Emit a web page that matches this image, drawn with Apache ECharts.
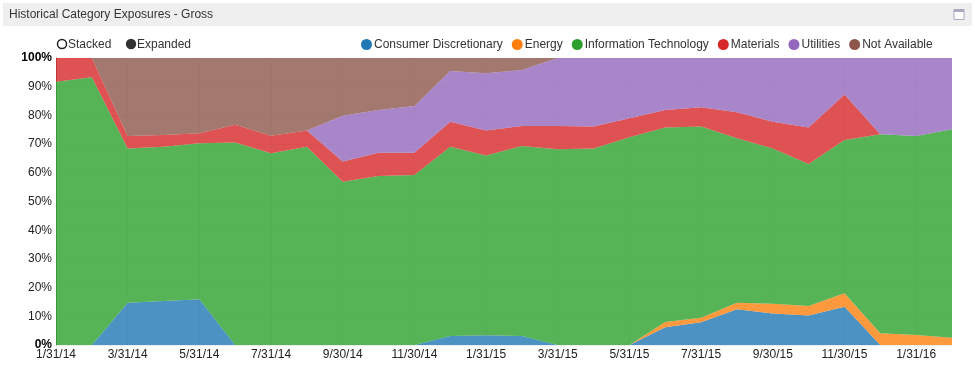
<!DOCTYPE html>
<html>
<head>
<meta charset="utf-8">
<script src="https://cdn.jsdelivr.net/npm/echarts@6/dist/echarts.min.js"></script>
<style>
html,body{margin:0;padding:0;background:#fff;}
#c{width:975px;height:367px;}
</style>
</head>
<body>
<div id="c"></div>
<script>
var dates = ['1/31/14','2/28/14','3/31/14','4/30/14','5/31/14','6/30/14','7/31/14','8/31/14','9/30/14','10/31/14','11/30/14','12/31/14','1/31/15','2/28/15','3/31/15','4/30/15','5/31/15','6/30/15','7/31/15','8/31/15','9/30/15','10/31/15','11/30/15','12/31/15','1/31/16','2/29/16'];
var consumerDiscretionary = [0,0,14.7,15.3,15.9,0,0,0,0,0,0,3.1,3.4,3.1,0,0,0,6.2,7.9,12.5,11.0,10.3,13.3,0,0,0];
var energy = [0,0,0,0,0,0,0,0,0,0,0,0,0,0,0,0,0,1.8,1.6,2.2,3.4,3.3,4.7,4.1,3.5,2.5];
var informationTechnology = [91.7,93.3,53.8,53.8,54.4,70.6,66.8,69.1,56.9,58.9,59.2,66.0,62.6,66.2,68.2,68.5,72.4,67.8,66.6,57.3,54.1,49.5,53.4,69.3,69.3,72.7];
var materials = [8.3,6.7,4.3,4.1,3.5,6.1,6.1,5.6,7.0,8.1,7.8,8.7,8.7,7.0,8.1,7.6,6.6,6.1,6.7,9.1,9.3,12.7,15.9,0,0,0];
var utilities = [0,0,0,0,0,0,0,0,16.0,14.9,16.3,17.7,20.0,19.5,23.7,23.9,21.0,18.1,17.2,18.9,22.2,24.2,12.7,26.6,27.2,24.8];
var notAvailable = [0,0,27.2,26.8,26.2,23.3,27.1,25.3,20.1,18.1,16.7,4.5,5.3,4.2,0,0,0,0,0,0,0,0,0,0,0,0];
var yTicks = [0,10,20,30,40,50,60,70,80,90,100];

var names = ['Consumer Discretionary','Energy','Information Technology','Materials','Utilities','Not Available'];
var colors = ['#1f77b4','#ff7f0e','#2ca02c','#d62728','#9467bd','#8c564b'];
var data = [consumerDiscretionary, energy, informationTechnology, materials, utilities, notAvailable];
var FONT = 'Arial, "Liberation Sans", sans-serif';

var series = names.map(function(n,i){
  return {
    name:n, type:'line', stack:'total', data:data[i],
    color:colors[i], symbol:'none', showSymbol:false,
    lineStyle:{width:0}, areaStyle:{opacity:0.8, color:colors[i]},
    emphasis:{disabled:true}, animation:false
  };
});

var chart = echarts.init(document.getElementById('c'), null, {renderer:'canvas'});
chart.setOption({
  animation:false,
  textStyle:{fontFamily:FONT},
  grid:{left:56, right:23, top:58, bottom:22, containLabel:false},
  legend:{
    data:names, left:361, top:38.5, padding:0, icon:'circle', itemWidth:11, itemHeight:11, itemGap:9,
    textStyle:{fontFamily:FONT, fontSize:12, color:'#333', padding:[0,0,0,-3]},
    selectedMode:false
  },
  xAxis:{
    type:'category', data:dates, boundaryGap:false,
    axisLine:{show:false}, axisTick:{show:false},
    axisLabel:{interval:1, color:'#222', fontSize:12, fontFamily:FONT, margin:4},
    splitLine:{show:true, interval:1, lineStyle:{color:'rgba(0,0,0,0.07)', width:1}}
  },
  yAxis:{
    type:'value', min:yTicks[0], max:yTicks[yTicks.length-1], interval:10,
    axisLine:{show:true, lineStyle:{color:'rgba(0,60,0,0.55)', width:1}},
    axisTick:{show:false},
    axisLabel:{
      margin:4, fontSize:12, fontFamily:FONT, color:'#222',
      formatter:function(v){ return (v===0||v===100) ? '{b|'+v+'%}' : v+'%'; },
      rich:{b:{fontWeight:'bold', fontSize:12, fontFamily:FONT, color:'#000'}}
    },
    splitLine:{show:true, lineStyle:{color:'rgba(0,0,0,0.07)', width:1}}
  },
  graphic:[
    {type:'rect', shape:{x:3,y:3,width:969,height:23}, style:{fill:'#efefef'}, silent:true},
    {type:'text', x:9, y:15, style:{text:'Historical Category Exposures - Gross', fill:'#333', font:'12px '+FONT, textVerticalAlign:'middle'}},
    {type:'rect', shape:{x:954,y:9.5,width:10,height:10}, style:{fill:'#fff', stroke:'#a9a9c4', lineWidth:1}},
    {type:'rect', shape:{x:954,y:9.5,width:10,height:2.5}, style:{fill:'#a9a9c4'}},
    {type:'circle', shape:{cx:62, cy:44, r:4.5}, style:{fill:'#fff', stroke:'#222', lineWidth:1.5}},
    {type:'text', x:68, y:44.5, style:{text:'Stacked', fill:'#333', font:'12px '+FONT, textVerticalAlign:'middle'}},
    {type:'circle', shape:{cx:131, cy:44, r:5.2}, style:{fill:'#333'}},
    {type:'text', x:137, y:44.5, style:{text:'Expanded', fill:'#333', font:'12px '+FONT, textVerticalAlign:'middle'}}
  ],
  series:series
});
</script>
</body>
</html>
